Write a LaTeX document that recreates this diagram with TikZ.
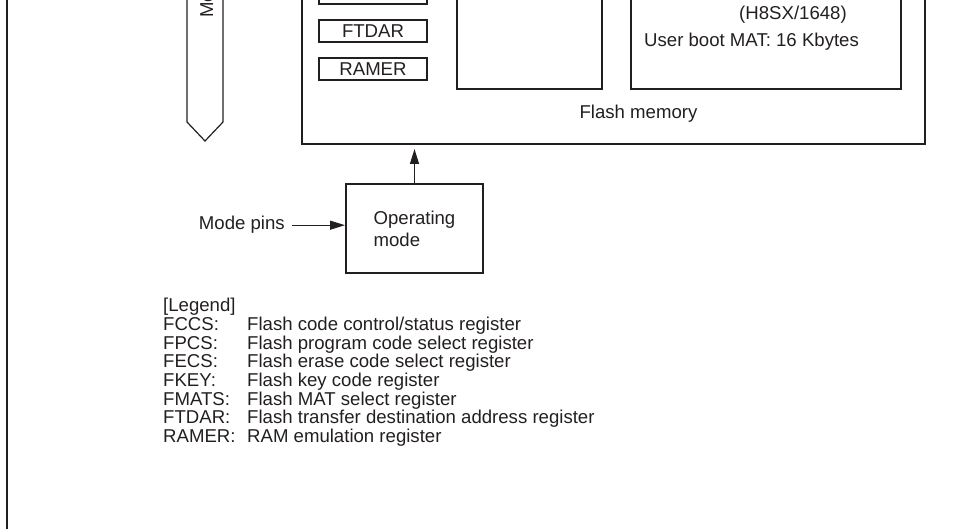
\documentclass[tikz,border=0pt]{standalone}
\usepackage{fontspec}
\setmainfont{Liberation Sans}
\usetikzlibrary{arrows.meta, positioning}
\definecolor{ink}{HTML}{231F20}

\begin{document}
\begin{tikzpicture}[x=1pt, y=-1pt,
	frame/.style={shape=rectangle, draw=ink, line width=2pt, inner sep=0pt, text=ink},
	regbox/.style={shape=rectangle, draw=ink, line width=1.8pt, minimum width=108pt, minimum height=22pt, inner sep=0pt, text=ink},
	txt/.style={text=ink, inner sep=0pt},
	flow/.style={draw=ink, line width=1.2pt, -{Triangle[length=15pt, width=9pt]}},
	font=\fontsize{18.6}{22}\selectfont]
	\useasboundingbox (0, 0) rectangle (964, 529);
	\clip (0, 0) rectangle (964, 529);
	% Paths, nodes and wires:
	\draw[ink, line width=2.5pt] (7, -10) -- (7, 540);
	\draw[ink, line width=1.2pt] (187, -10) -- (187, 122) -- (205, 141) -- (223, 122) -- (223, -10);
	\node[txt, rotate=90, anchor=base west](modetxt) at (213, 18){Mo};
	\node[frame, minimum width=623pt, minimum height=244pt](flash) at (613.5, 22){};
	\node[regbox](regtop) at (373, -7){};
	\node[regbox](ftdar) at (373, 31){FTDAR};
	\node[regbox](ramer) at (373, 69){RAMER};
	\node[frame, minimum width=145pt, minimum height=200pt](ramarea) at (529.5, -11){};
	\node[frame, minimum width=270pt, minimum height=200pt](matarea) at (766, -11){};
	\node[txt, anchor=base](chip) at (793, 20){(H8SX/1648)};
	\node[txt, anchor=base west](ubmat) at (644, 47){User boot MAT: 16 Kbytes};
	\node[txt, anchor=base](flashlbl) at (638.5, 119){Flash memory};
	\node[frame, minimum width=137pt, minimum height=89pt, align=left](opmode) at (414.5, 228.5){Operating\\mode};
	\node[txt, anchor=base east](pins) at (285, 230){Mode pins};
	\draw[flow, shorten <=7pt] (pins.east) -- (opmode.west |- pins.east);
	\draw[flow, shorten >=4pt] (opmode.north) -- (opmode.north |- flash.south);
	% Legend
	\node[txt, anchor=base west](legend) at (163, 312){[Legend]};
	\foreach \abbr/\desc [count=\i] in {FCCS:/{Flash code control/status register},
		FPCS:/Flash program code select register,
		FECS:/Flash erase code select register,
		FKEY:/Flash key code register,
		FMATS:/Flash MAT select register,
		FTDAR:/Flash transfer destination address register,
		RAMER:/RAM emulation register}{
		\node[txt, anchor=base west](key\i) at (163, 312+18.6*\i){\abbr};
		\node[txt, anchor=base west](desc\i) at (247, 312+18.6*\i){\desc};
	}
\end{tikzpicture}
\end{document}
